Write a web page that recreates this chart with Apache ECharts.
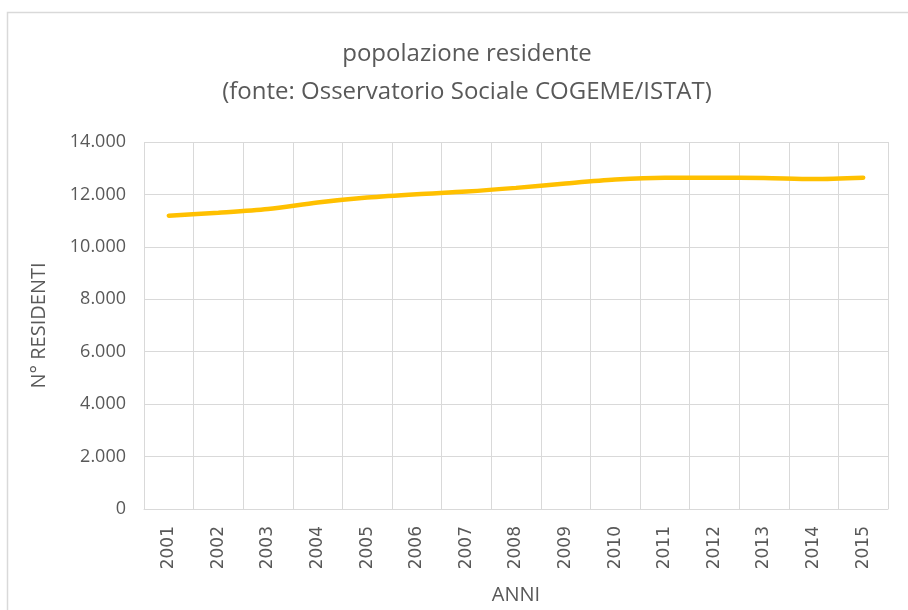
<!DOCTYPE html>
<html>
<head>
<meta charset="utf-8">
<script src="https://cdn.jsdelivr.net/npm/echarts@6/dist/echarts.min.js"></script>
<style>
  html, body { margin: 0; padding: 0; background: #ffffff; }
  #chart-container { width: 908px; height: 610px; }
</style>
</head>
<body>
<div id="chart-container"></div>
<script>
const anni = ['2001', '2002', '2003', '2004', '2005', '2006', '2007', '2008',
    '2009', '2010', '2011', '2012', '2013', '2014', '2015'];
const residenti = [11190, 11300, 11440, 11690, 11880, 12010, 12110, 12250,
    12420, 12570, 12640, 12640, 12630, 12590, 12640];
const yTicks = [0, 2000, 4000, 6000, 8000, 10000, 12000, 14000];

const textColor = '#595959';
const linesColor = '#d9d9d9';
const fontFamily = "'Open Sans', sans-serif";

const formatThousands = (v) => String(v).replace(/\B(?=(\d{3})+(?!\d))/g, '.');

const chartContainer = document.getElementById('chart-container');
const myChart = echarts.init(chartContainer);

const options = {
    backgroundColor: '#ffffff',
    animation: false,
    textStyle: { fontFamily: fontFamily },
    title: {
        text: 'popolazione residente\n(fonte: Osservatorio Sociale COGEME/ISTAT)',
        left: 462,
        top: 30,
        textAlign: 'center',
        textStyle: {
            color: textColor,
            fontSize: 24,
            fontWeight: 'normal',
            lineHeight: 38,
            fontFamily: fontFamily
        }
    },
    graphic: [{
        type: 'rect',
        shape: { x: 7.5, y: 12.5, width: 920, height: 620 },
        style: { fill: 'none', stroke: linesColor, lineWidth: 1.5 },
        silent: true
    }],
    grid: {
        left: 144,
        right: 20,
        top: 142,
        bottom: 98
    },
    xAxis: {
        type: 'category',
        data: anni,
        boundaryGap: true,
        name: 'ANNI',
        nameLocation: 'middle',
        nameGap: 76,
        nameTextStyle: { color: textColor, fontSize: 20 },
        axisLine: { show: true, lineStyle: { color: linesColor } },
        axisTick: { show: false },
        axisLabel: {
            rotate: 90,
            color: textColor,
            fontSize: 17,
            margin: 17,
            fontFamily: "'DejaVu Sans', sans-serif"
        },
        splitLine: { show: true, interval: 0, lineStyle: { color: linesColor } }
    },
    yAxis: {
        type: 'value',
        min: yTicks[0],
        max: yTicks[yTicks.length - 1],
        interval: yTicks[1] - yTicks[0],
        name: 'N° RESIDENTI',
        nameLocation: 'middle',
        nameGap: 95,
        nameTextStyle: { color: textColor, fontSize: 20 },
        axisLine: { show: false },
        axisTick: { show: false },
        axisLabel: {
            color: textColor,
            fontSize: 18,
            margin: 18,
            formatter: (v) => formatThousands(v)
        },
        splitLine: { show: true, lineStyle: { color: linesColor } }
    },
    series: [{
        name: 'residenti',
        type: 'line',
        data: residenti,
        smooth: 0.3,
        showSymbol: false,
        lineStyle: { color: '#FFC000', width: 4.5, cap: 'round' },
        itemStyle: { color: '#FFC000' }
    }]
};

myChart.setOption(options);
</script>
</body>
</html>
